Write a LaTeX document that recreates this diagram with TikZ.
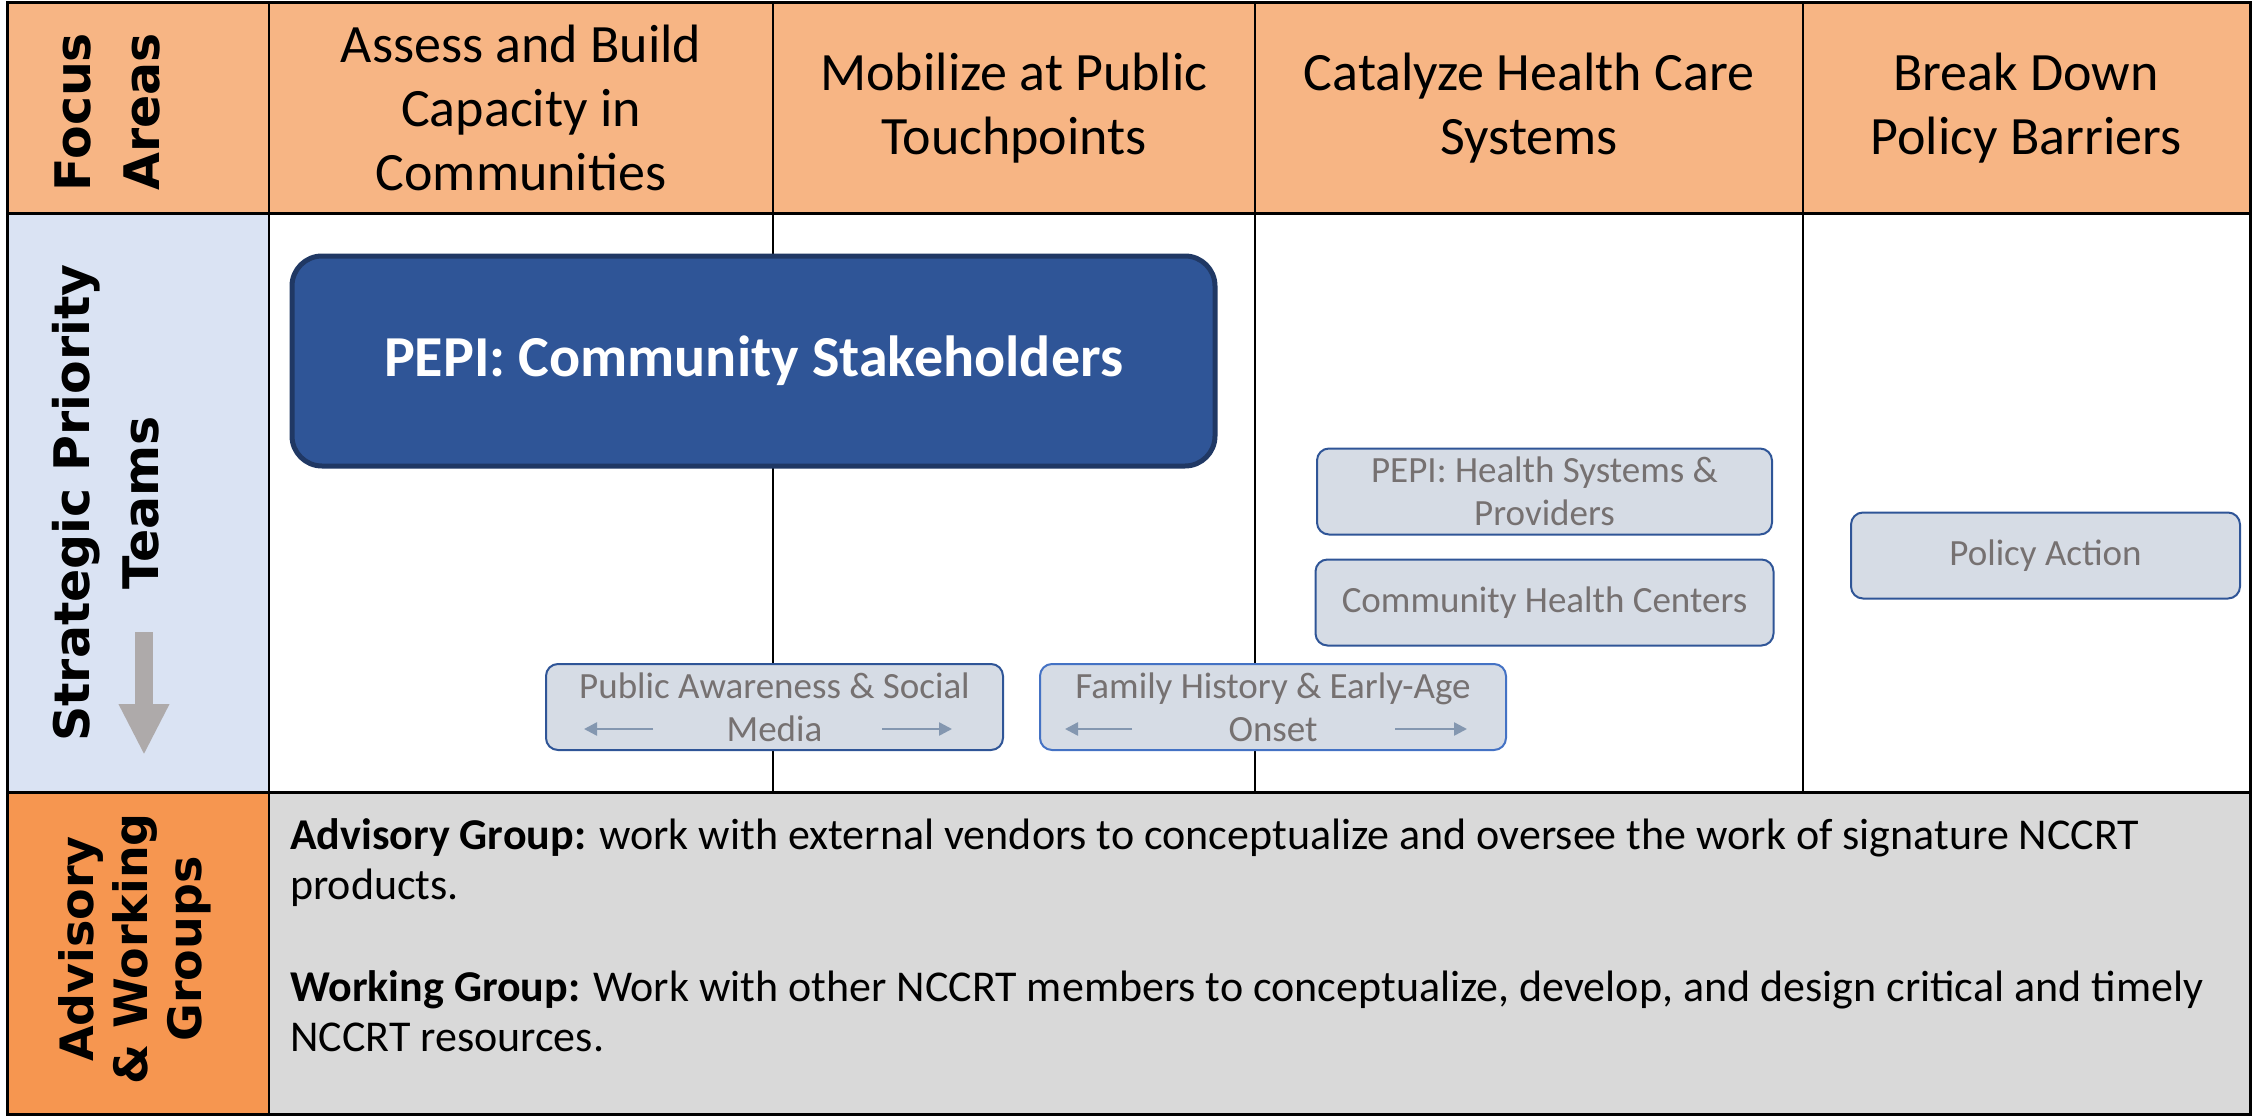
\documentclass[tikz,border=0pt]{standalone}
\usepackage{fontspec}
\setmainfont{Carlito}
\newfontfamily\sidefont{DejaVu Sans}
\usepackage{xcolor}
\usepackage{tikz}
\usetikzlibrary{positioning,arrows.meta}
\definecolor{peach}{HTML}{F7B584}
\definecolor{orangecell}{HTML}{F69650}
\definecolor{bluecell}{HTML}{DAE3F3}
\definecolor{graycell}{HTML}{D9D9D9}
\definecolor{pepiblue}{HTML}{2F5597}
\definecolor{pepiedge}{HTML}{203864}
\definecolor{teamfill}{HTML}{D6DCE5}
\definecolor{teamtext}{HTML}{767171}
\definecolor{hintarrow}{HTML}{8497B0}
\definecolor{downarrow}{HTML}{AEAAAA}
\definecolor{lightedge}{HTML}{4472C4}

\begin{document}
\begin{tikzpicture}[x=1pt, y=-1pt]
            \tikzstyle{focus} = [align=center, font=\fontsize{54}{64}\selectfont]
            \tikzstyle{side} = [align=center, rotate=90, font=\sidefont\bfseries\fontsize{49}{69}\selectfont]
            \tikzstyle{team} = [rounded corners=12pt, draw=pepiblue, line width=2pt, fill=teamfill, text=teamtext, align=center, font=\fontsize{37}{43}\selectfont, minimum height=86pt, inner sep=0pt]
            \tikzstyle{hint} = [hintarrow, line width=2.5pt, -{Triangle[length=13pt,width=13pt]}]
            \tikzstyle{grid} = [line width=2pt]

            \useasboundingbox (0,0) rectangle (2254,1116);
            \fill [peach] (7,3) rectangle (2250,213);
            \fill [bluecell] (7,213) rectangle (269,792);
            \fill [orangecell] (7,792) rectangle (269,1114);
            \fill [graycell] (269,792) rectangle (2250,1114);
            \foreach \x in {773, 1255, 1803}
                \draw [grid] (\x,3) -- (\x,792);
            \draw [grid] (269,3) -- (269,1114);
            \draw [line width=3pt] (7,213) -- (2250,213) (7,792) -- (2250,792);
            \draw [line width=3pt] (7,3) rectangle (2250,1114);

            \node [focus] (F1) at (521,108) {Assess and Build\\Capacity in\\Communities};
            \node [focus] (F2) at (1014,108) {Mobilize at Public\\Touchpoints};
            \node [focus] (F3) at (1529,108) {Catalyze Health Care\\Systems};
            \node [focus] (F4) at (2026,108) {Break Down\\Policy Barriers};

            \node [side] (areas) at (107,112) {Focus\\Areas};
            \node [side] (teams) at (106,503) {Strategic Priority\\Teams};
            \node [side, font=\sidefont\bfseries\fontsize{46}{54}\selectfont] (groups) at (135,949) {Advisory\\\& Working\\Groups};
            \draw [downarrow, line width=18pt, -{Triangle[length=51pt,width=47pt]}] (144,632) -- (144,755);

            \node [rounded corners=30pt, draw=pepiedge, line width=5pt, fill=pepiblue, text=white, font=\bfseries\fontsize{58}{68}\selectfont, minimum width=923pt, minimum height=210pt] (pepi) at (753.5,361) {\raisebox{-11pt}{PEPI: Community Stakeholders}};

            \node [team, minimum width=455pt] (HS) at (1544.5,491.5) {PEPI: Health Systems \&\\Providers};
            \node [team, minimum width=458pt, below = 23pt of HS] (CHC) {Community Health Centers};
            \node [team, minimum width=389pt] (policy) at (2045.5,555.5) {\raisebox{-8pt}{Policy Action}};
            \node [team, minimum width=457pt] (aware) at (774.5,707) {Public Awareness \& Social\\Media};
            \node [team, draw=lightedge, minimum width=466pt, right = 35pt of aware] (history) {Family History \& Early-Age\\Onset};

            \foreach \n/\a/\b in {aware/39/108, history/26/93}
                \draw [hint] ([shift={(\b,22)}]\n.west) -- ([shift={(\a,22)}]\n.west);
            \foreach \n/\a/\b in {aware/52/122, history/40/112}
                \draw [hint] ([shift={(-\b,22)}]\n.east) -- ([shift={(-\a,22)}]\n.east);

            \node [anchor=north west, align=left, inner sep=0pt, font=\fontsize{44}{50}\selectfont] (notes) at (290,818) {\textbf{Advisory Group:} work with external vendors to conceptualize and oversee the work of signature NCCRT\\products.\\[52pt]\textbf{Working Group:} Work with other NCCRT members to conceptualize, develop, and design critical and timely\\NCCRT resources.};
\end{tikzpicture}
\end{document}
